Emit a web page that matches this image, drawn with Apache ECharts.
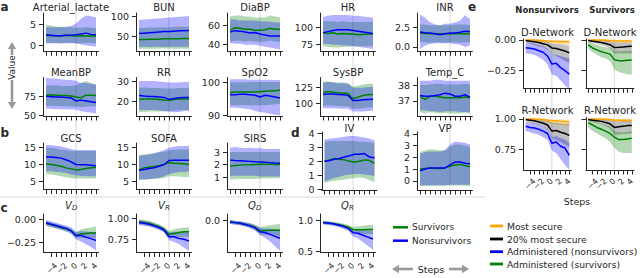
<!DOCTYPE html>
<html><head><meta charset="utf-8"><title>chart</title>
<script src="https://cdn.jsdelivr.net/npm/echarts@6.0.0/dist/echarts.min.js"></script>
<style>html,body{margin:0;padding:0;background:#fff;overflow:hidden}#chart{width:640px;height:278px}</style>
</head><body><div id="chart"></div>
<script>
// ---------- shared x values / tick labels ----------
const steps = [-6, -5, -4, -3, -2, -1, 0, 1, 2, 3, 4];
const xLabelSteps = [-6, -4, -2, 0, 2, 4];

// ---------- panel a ----------
const lactateS   = [2.4, 2.3, 2.3, 2.2, 2.4, 2.3, 2.2, 2.3, 2.2, 2.3, 2.2];
const lactateSLo = [0.6, 0.5, 0.6, 0.5, 0.6, 0.6, 0.5, 0.5, 0.6, 0.5, 0.5];
const lactateSHi = [4.9, 4.7, 4.5, 4.4, 4.3, 4.3, 4.2, 4.2, 4.3, 4.2, 4.1];
const lactateN   = [2.5, 2.4, 2.3, 2.3, 2.4, 2.4, 2.5, 2.7, 2.9, 2.6, 2.5];
const lactateNLo = [0.5, 0.5, 0.5, 0.4, 0.5, 0.5, 0.4, 0.2, 0.0, -0.2, -0.3];
const lactateNHi = [4.3, 4.3, 4.3, 4.3, 4.4, 4.6, 5.2, 6.3, 7.1, 6.9, 6.6];

const bunS   = [41, 41, 42, 42, 42, 43, 43, 43, 43, 44, 44];
const bunSLo = [18, 18, 18, 18, 18.5, 18.5, 18.5, 18, 18, 18, 18];
const bunSHi = [70, 70, 71, 71, 72, 72, 72, 73, 73, 73, 74];
const bunN   = [56, 57, 58, 59, 60, 61, 61, 62, 63, 63, 64];
const bunNLo = [23, 23, 22.5, 23, 23, 22.5, 23, 23, 22.5, 23, 23];
const bunNHi = [90, 91, 92, 93, 94, 95, 96, 97, 98, 99, 100];

const diaS   = [55, 57.5, 57, 56, 56, 55, 55, 55.5, 57, 56, 56];
const diaSLo = [43, 44, 44, 43, 44, 43, 43, 43, 44, 43, 43];
const diaSHi = [69, 70, 70, 69, 69, 68, 68, 68, 70, 69, 68];
const diaN   = [53, 54.5, 54, 53, 52, 52.5, 51, 50, 49, 49, 49];
const diaNLo = [42, 41, 41, 40, 40, 40, 39, 38, 37, 36, 35];
const diaNHi = [66, 66, 65, 65, 65, 65, 64, 64, 64, 63, 63];

const hrS   = [92, 91, 92, 90, 91, 90, 90, 89, 89.5, 90, 90];
const hrSLo = [73, 72, 71, 71, 72, 72, 73, 73, 73, 73, 74];
const hrSHi = [108, 108, 108, 107, 108, 107, 107, 107, 107, 107, 107];
const hrN   = [92, 93.5, 95, 96, 96, 96, 95, 94, 93, 92, 91];
const hrNLo = [76, 76, 75, 75, 74, 74, 73, 72, 71, 70, 69];
const hrNHi = [114, 116, 117, 117, 117, 117, 116, 116, 115, 114, 113];

const inrS   = [1.8, 1.75, 1.7, 1.7, 1.7, 1.7, 1.7, 1.7, 1.7, 1.7, 1.7];
const inrSLo = [0.6, 0.6, 0.55, 0.6, 0.6, 0.55, 0.6, 0.6, 0.55, 0.6, 0.6];
const inrSHi = [2.9, 2.9, 2.8, 2.8, 2.8, 2.8, 2.8, 2.9, 2.9, 2.9, 2.8];
const inrN   = [1.95, 1.85, 1.8, 1.7, 1.6, 1.7, 1.8, 1.8, 1.9, 2.05, 2.0];
const inrNLo = [-0.3, 0.2, 0.4, 0.5, 0.5, 0.5, 0.5, 0.4, 0.3, 0.0, 0.2];
const inrNHi = [4.2, 3.8, 3.2, 2.9, 2.8, 3.0, 3.0, 3.2, 3.4, 4.1, 3.6];

const mbpS   = [77, 77.5, 77, 76.5, 76.5, 76, 74.5, 73.5, 77, 77, 76.5];
const mbpSLo = [63, 63, 63, 62.5, 62.5, 62, 62, 61, 62, 62, 62];
const mbpSHi = [89, 90, 90, 89, 89, 89, 90, 93, 96, 93, 91];
const mbpN   = [75.5, 75, 74.5, 74.5, 74, 73.5, 69.5, 70.5, 69.5, 68.5, 67.5];
const mbpNLo = [59, 59, 58.5, 58.5, 58.5, 58, 58, 56, 55, 54, 53];
const mbpNHi = [100, 99, 99, 98, 97, 97, 96, 93, 93, 92, 91];

const rrS   = [20.8, 21, 21, 21, 20.8, 20.5, 20.4, 20.7, 21, 21, 21];
const rrSLo = [14.5, 14.5, 14.7, 14.7, 14.7, 14.7, 15, 15.3, 15.5, 15.5, 15.5];
const rrSHi = [26.8, 26.8, 26.5, 26.5, 26.5, 26.3, 26.3, 26.3, 26.5, 26.5, 26.5];
const rrN   = [22.8, 22.5, 22.3, 22.2, 22.0, 21.8, 20.8, 21.3, 21.6, 21.8, 21.7];
const rrNLo = [15.5, 15.5, 15.5, 15.5, 15.3, 15.0, 14.6, 14.5, 14.5, 15, 15];
const rrNHi = [30, 30, 30, 30, 29.8, 29.5, 29.3, 29.3, 29.3, 29.5, 29.5];

const spoS   = [96.8, 97, 97, 97, 97, 97, 97.1, 97.2, 97.3, 97.4, 97.5];
const spoSLo = [93, 93, 93, 93, 93, 93, 93, 93, 93.2, 93.3, 93.5];
const spoSHi = [99.9, 99.9, 99.9, 99.9, 99.9, 100, 100, 100, 100, 100, 100];
const spoN   = [96.2, 96.2, 96.3, 96.3, 96.2, 96.0, 95.5, 96.0, 95.8, 95.5, 95.2];
const spoNLo = [92.3, 92.3, 92.2, 92.0, 91.8, 91.3, 91, 90.8, 90.5, 90.2, 90];
const spoNHi = [100.8, 100.8, 100.8, 100.8, 100.7, 100.7, 100.7, 100.7, 100.7, 100.6, 100.6];

const sysS   = [117, 119, 118, 117, 116.5, 116, 108, 110, 113, 114, 114.5];
const sysSLo = [96, 97, 97, 96, 96, 96, 92, 92, 93, 94, 94];
const sysSHi = [134, 135, 134, 133, 133, 132, 127, 128, 130, 131, 131];
const sysN   = [114.5, 115, 115, 114.5, 114, 113, 105, 105, 106, 106.5, 107];
const sysNLo = [93, 93, 93, 92.5, 92, 92, 88, 88, 88, 88.5, 89];
const sysNHi = [133, 134, 133, 132, 132, 131, 125, 125, 125, 126, 126];

const tempS   = [37.3, 37.1, 37.3, 37.3, 37.25, 37.2, 37.2, 37.2, 37.2, 37.25, 37.2];
const tempSLo = [36.3, 36.2, 36.3, 36.25, 36.2, 36.25, 36.2, 36.2, 36.2, 36.25, 36.15];
const tempSHi = [38.05, 38.0, 38.05, 38.1, 38.1, 38.05, 38.05, 38.05, 38.05, 38.1, 38.05];
const tempN   = [37.35, 37.3, 37.3, 37.35, 37.4, 37.5, 37.45, 37.3, 37.3, 37.4, 37.25];
const tempNLo = [36.4, 36.4, 36.35, 36.35, 36.3, 36.35, 36.35, 36.35, 36.3, 36.3, 36.3];
const tempNHi = [38.3, 38.3, 38.3, 38.35, 38.35, 38.3, 38.3, 38.3, 38.3, 38.3, 38.3];

// ---------- panel b ----------
const gcsS   = [10.2, 10.0, 9.8, 9.5, 9.0, 8.7, 8.4, 8.5, 8.8, 9.0, 9.2];
const gcsSLo = [7.2, 7.0, 6.8, 6.5, 6.2, 6.0, 5.8, 5.8, 5.8, 5.8, 5.8];
const gcsSHi = [15.0, 15.0, 14.8, 14.5, 14.3, 14.0, 14.0, 14.0, 14.0, 14.0, 14.0];
const gcsN   = [12.2, 12.2, 12.1, 11.9, 11.4, 10.8, 10.0, 9.9, 9.9, 9.8, 9.6];
const gcsNLo = [8.0, 8.0, 7.8, 7.7, 7.5, 7.0, 6.8, 6.6, 6.5, 6.5, 6.5];
const gcsNHi = [15.8, 15.8, 15.6, 15.4, 15.0, 14.6, 14.3, 14.3, 14.3, 14.3, 14.3];

const sofaS   = [8.4, 9.0, 9.2, 9.4, 9.6, 10.0, 10.6, 10.4, 10.3, 10.2, 10.0];
const sofaSLo = [5.3, 5.5, 5.6, 5.7, 5.8, 6.0, 6.5, 6.5, 6.4, 6.3, 6.2];
const sofaSHi = [12.8, 13.0, 13.2, 13.4, 13.6, 13.8, 14.2, 14.4, 14.5, 14.5, 14.5];
const sofaN   = [8.3, 8.5, 8.8, 9.0, 9.5, 10.0, 11.2, 11.3, 11.3, 11.3, 11.3];
const sofaNLo = [5.5, 5.5, 5.6, 5.8, 6.0, 6.5, 7.2, 7.5, 7.8, 7.8, 8.0];
const sofaNHi = [12.5, 12.8, 13, 13.3, 13.8, 14.3, 15, 15.3, 15.5, 15.5, 15.5];

const sirsS   = [1.87, 1.92, 1.95, 1.97, 1.98, 2.0, 2.02, 2.02, 2.03, 2.0, 2.0];
const sirsSLo = [0.8, 0.82, 0.85, 0.85, 0.85, 0.85, 0.88, 0.88, 0.9, 0.9, 0.9];
const sirsSHi = [3.0, 3.0, 3.0, 3.0, 3.0, 3.0, 3.0, 3.0, 3.0, 3.0, 3.0];
const sirsN   = [2.35, 2.32, 2.3, 2.28, 2.25, 2.22, 2.2, 2.18, 2.15, 2.12, 2.1];
const sirsNLo = [1.1, 1.1, 1.1, 1.1, 1.1, 1.1, 1.05, 1.05, 1.05, 1.05, 1.05];
const sirsNHi = [3.35, 3.4, 3.35, 3.3, 3.35, 3.3, 3.3, 3.25, 3.25, 3.25, 3.25];

// ---------- panel d ----------
const ivS   = [2.0, 2.1, 2.2, 2.15, 2.1, 2.0, 1.95, 2.0, 2.1, 2.05, 1.85];
const ivSLo = [0.45, 0.55, 0.6, 0.65, 0.7, 0.75, 0.8, 0.85, 0.8, 0.65, 0.5];
const ivSHi = [3.4, 3.45, 3.45, 3.45, 3.45, 3.45, 3.45, 3.4, 3.4, 3.35, 3.3];
const ivN   = [2.0, 2.05, 2.15, 2.2, 2.3, 2.4, 2.5, 2.5, 2.55, 2.3, 2.25];
const ivNLo = [0.55, 0.7, 0.8, 0.9, 1.0, 1.05, 1.1, 1.1, 1.05, 1.0, 0.95];
const ivNHi = [3.55, 3.6, 3.65, 3.7, 3.75, 3.8, 3.8, 3.75, 3.7, 3.6, 3.5];

const vpS   = [1.0, 1.05, 1.1, 1.05, 1.05, 1.1, 1.25, 1.35, 1.4, 1.3, 1.2];
const vpSLo = [-0.45, -0.45, -0.42, -0.42, -0.42, -0.42, -0.4, -0.4, -0.4, -0.42, -0.45];
const vpSHi = [2.45, 2.6, 2.7, 2.65, 2.6, 2.6, 2.9, 3.1, 3.1, 3.0, 2.9];
const vpN   = [0.85, 1.0, 1.1, 1.1, 1.1, 1.1, 1.35, 1.6, 1.6, 1.5, 1.45];
const vpNLo = [-0.4, -0.38, -0.38, -0.38, -0.38, -0.38, -0.35, -0.35, -0.35, -0.35, -0.35];
const vpNHi = [2.3, 2.45, 2.5, 2.5, 2.5, 2.6, 3.1, 3.35, 3.3, 3.25, 3.1];

// ---------- panel c ----------
const vdS   = [-0.045, -0.06, -0.075, -0.09, -0.105, -0.125, -0.175, -0.16, -0.155, -0.15, -0.15];
const vdSLo = [-0.07, -0.085, -0.1, -0.115, -0.13, -0.15, -0.2, -0.2, -0.2, -0.2, -0.2];
const vdSHi = [-0.02, -0.035, -0.05, -0.065, -0.08, -0.1, -0.14, -0.11, -0.1, -0.09, -0.08];
const vdN   = [-0.04, -0.055, -0.07, -0.085, -0.1, -0.125, -0.18, -0.175, -0.195, -0.21, -0.23];
const vdNLo = [-0.07, -0.085, -0.1, -0.115, -0.13, -0.16, -0.22, -0.24, -0.27, -0.3, -0.34];
const vdNHi = [-0.01, -0.025, -0.04, -0.055, -0.07, -0.09, -0.14, -0.13, -0.135, -0.14, -0.14];

const vrS   = [0.96, 0.95, 0.94, 0.92, 0.9, 0.87, 0.81, 0.82, 0.83, 0.84, 0.84];
const vrSLo = [0.93, 0.92, 0.91, 0.89, 0.87, 0.84, 0.77, 0.77, 0.78, 0.78, 0.78];
const vrSHi = [0.99, 0.98, 0.97, 0.95, 0.93, 0.9, 0.85, 0.87, 0.88, 0.89, 0.89];
const vrN   = [0.95, 0.94, 0.93, 0.91, 0.89, 0.86, 0.78, 0.78, 0.76, 0.75, 0.73];
const vrNLo = [0.92, 0.91, 0.9, 0.88, 0.86, 0.83, 0.74, 0.72, 0.69, 0.65, 0.61];
const vrNHi = [0.98, 0.97, 0.96, 0.94, 0.92, 0.89, 0.83, 0.84, 0.84, 0.84, 0.84];

const qdS   = [-0.03, -0.04, -0.05, -0.065, -0.085, -0.11, -0.165, -0.16, -0.155, -0.155, -0.155];
const qdSLo = [-0.06, -0.07, -0.08, -0.095, -0.115, -0.15, -0.22, -0.23, -0.23, -0.24, -0.25];
const qdSHi = [0.0, -0.01, -0.02, -0.035, -0.05, -0.07, -0.11, -0.09, -0.08, -0.07, -0.06];
const qdN   = [-0.03, -0.04, -0.05, -0.07, -0.09, -0.12, -0.18, -0.19, -0.22, -0.25, -0.28];
const qdNLo = [-0.06, -0.07, -0.08, -0.1, -0.13, -0.16, -0.23, -0.27, -0.33, -0.4, -0.47];
const qdNHi = [0.0, -0.01, -0.02, -0.035, -0.05, -0.08, -0.12, -0.13, -0.13, -0.14, -0.15];

const qrS   = [0.96, 0.955, 0.945, 0.93, 0.915, 0.89, 0.85, 0.845, 0.845, 0.85, 0.85];
const qrSLo = [0.935, 0.93, 0.92, 0.9, 0.885, 0.86, 0.8, 0.79, 0.78, 0.78, 0.78];
const qrSHi = [0.985, 0.98, 0.97, 0.96, 0.945, 0.92, 0.89, 0.9, 0.91, 0.92, 0.92];
const qrN   = [0.96, 0.95, 0.94, 0.92, 0.9, 0.87, 0.8, 0.79, 0.76, 0.73, 0.7];
const qrNLo = [0.93, 0.92, 0.91, 0.89, 0.86, 0.83, 0.74, 0.71, 0.65, 0.59, 0.53];
const qrNHi = [0.98, 0.975, 0.965, 0.95, 0.93, 0.9, 0.85, 0.85, 0.84, 0.84, 0.83];

// ---------- panel e ----------
const dNonOr   = [0, 0, 0, -0.003, -0.005, -0.008, -0.012, -0.012, -0.015, -0.015, -0.015];
const dNonOrLo = [-0.008, -0.01, -0.012, -0.015, -0.018, -0.022, -0.03, -0.032, -0.035, -0.038, -0.04];
const dNonOrHi = [0.004, 0.004, 0.004, 0.003, 0.002, 0.001, 0, 0, 0, 0, 0];
const dNonBk   = [-0.005, -0.01, -0.015, -0.02, -0.03, -0.04, -0.065, -0.07, -0.08, -0.09, -0.105];
const dNonBkLo = [-0.02, -0.03, -0.04, -0.05, -0.06, -0.08, -0.12, -0.13, -0.15, -0.17, -0.19];
const dNonBkHi = [0, 0, 0, -0.005, -0.01, -0.015, -0.03, -0.03, -0.035, -0.04, -0.045];
const dNonAd   = [-0.063, -0.068, -0.073, -0.087, -0.1, -0.13, -0.196, -0.19, -0.225, -0.25, -0.277];
const dNonAdLo = [-0.11, -0.115, -0.12, -0.14, -0.16, -0.2, -0.28, -0.29, -0.33, -0.37, -0.4];
const dNonAdHi = [-0.02, -0.025, -0.03, -0.04, -0.05, -0.07, -0.12, -0.12, -0.13, -0.14, -0.15];

const dSurOr   = [0, 0, 0, 0, -0.002, -0.004, -0.008, -0.008, -0.008, -0.008, -0.008];
const dSurOrLo = [-0.006, -0.008, -0.01, -0.012, -0.014, -0.016, -0.022, -0.023, -0.024, -0.025, -0.025];
const dSurOrHi = [0.004, 0.004, 0.004, 0.004, 0.003, 0.002, 0.001, 0.001, 0.001, 0.001, 0.001];
const dSurBk   = [-0.005, -0.01, -0.015, -0.02, -0.028, -0.038, -0.062, -0.06, -0.057, -0.053, -0.05];
const dSurBkLo = [-0.015, -0.02, -0.03, -0.04, -0.05, -0.07, -0.11, -0.11, -0.11, -0.11, -0.11];
const dSurBkHi = [0, 0, 0, 0, -0.005, -0.01, -0.02, -0.02, -0.02, -0.02, -0.02];
const dSurAd   = [-0.04, -0.065, -0.08, -0.095, -0.105, -0.115, -0.16, -0.168, -0.168, -0.165, -0.163];
const dSurAdLo = [-0.07, -0.1, -0.12, -0.14, -0.15, -0.17, -0.24, -0.26, -0.27, -0.28, -0.28];
const dSurAdHi = [-0.01, -0.025, -0.04, -0.05, -0.06, -0.065, -0.09, -0.09, -0.09, -0.09, -0.085];

const rNonOr   = [1, 1, 1, 0.998, 0.995, 0.99, 0.985, 0.985, 0.98, 0.978, 0.975];
const rNonOrLo = [0.99, 0.99, 0.985, 0.98, 0.975, 0.97, 0.96, 0.955, 0.95, 0.945, 0.94];
const rNonOrHi = [1.004, 1.004, 1.003, 1.002, 1.001, 1.0, 0.998, 0.998, 0.997, 0.996, 0.995];
const rNonBk   = [0.995, 0.99, 0.985, 0.975, 0.965, 0.95, 0.9, 0.905, 0.89, 0.88, 0.865];
const rNonBkLo = [0.98, 0.97, 0.96, 0.95, 0.935, 0.91, 0.84, 0.83, 0.81, 0.79, 0.77];
const rNonBkHi = [1.0, 1.0, 1.0, 0.995, 0.99, 0.985, 0.97, 0.97, 0.965, 0.96, 0.96];
const rNonAd   = [0.94, 0.93, 0.925, 0.915, 0.9, 0.88, 0.8, 0.81, 0.775, 0.76, 0.7];
const rNonAdLo = [0.9, 0.89, 0.88, 0.87, 0.85, 0.83, 0.74, 0.72, 0.67, 0.62, 0.58];
const rNonAdHi = [0.975, 0.97, 0.965, 0.955, 0.94, 0.92, 0.85, 0.86, 0.84, 0.83, 0.8];

const rSurOr   = [1, 1, 1, 1, 0.998, 0.995, 0.99, 0.99, 0.99, 0.99, 0.99];
const rSurOrLo = [0.995, 0.993, 0.99, 0.988, 0.985, 0.98, 0.975, 0.973, 0.972, 0.97, 0.97];
const rSurOrHi = [1.004, 1.004, 1.004, 1.004, 1.003, 1.002, 1.0, 1.0, 1.0, 1.0, 1.0];
const rSurBk   = [0.995, 0.99, 0.985, 0.98, 0.97, 0.96, 0.93, 0.935, 0.94, 0.945, 0.945];
const rSurBkLo = [0.985, 0.975, 0.965, 0.955, 0.94, 0.92, 0.87, 0.87, 0.875, 0.875, 0.88];
const rSurBkHi = [1.0, 1.0, 1.0, 1.0, 0.995, 0.99, 0.98, 0.98, 0.985, 0.985, 0.985];
const rSurAd   = [0.97, 0.95, 0.93, 0.915, 0.9, 0.88, 0.85, 0.83, 0.83, 0.835, 0.84];
const rSurAdLo = [0.93, 0.9, 0.88, 0.86, 0.84, 0.81, 0.76, 0.73, 0.72, 0.72, 0.72];
const rSurAdHi = [1.0, 0.985, 0.97, 0.96, 0.95, 0.935, 0.9, 0.89, 0.89, 0.895, 0.9];

// ---------- styling / layout ----------
const FONT = '"DejaVu Sans", sans-serif';
const AX = '#262626', TX = '#262626', ARROW = '#9a9a9a', ZLINE = '#e2e2e2';
const GREEN = '#008000', BLUE = '#0000ff', ORANGE = '#ffa500', BLACK = '#000000';
const FILL = {green: 'rgba(0,128,0,0.3)', blue: 'rgba(0,0,255,0.3)', orange: 'rgba(255,165,0,0.3)', black: 'rgba(0,0,0,0.25)'};

const COLS = [43.5, 136.5, 227.5, 320.5, 417.5];
const PW = 55;
const ROWS = {
  a1: {top: 13, bottom: 51.3, titleY: 7},
  a2: {top: 77.5, bottom: 116, titleY: 72},
  b:  {top: 143, bottom: 189.5, titleY: 138},
  d:  {top: 132, bottom: 190, titleY: 128.5},
  c:  {top: 214, bottom: 252.5, titleY: 205}
};

const panels = [
  {t: 'Arterial_lactate', row: 'a1', col: 0, min: -1.43, max: 7.69, ticks: [0, 5], dec: 0, S: [lactateS, lactateSLo, lactateSHi], N: [lactateN, lactateNLo, lactateNHi]},
  {t: 'BUN', row: 'a1', col: 1, min: 11.75, max: 107.5, ticks: [50, 100], dec: 0, S: [bunS, bunSLo, bunSHi], N: [bunN, bunNLo, bunNHi]},
  {t: 'DiaBP', row: 'a1', col: 2, min: 33.2, max: 72.7, ticks: [40, 60], dec: 0, S: [diaS, diaSLo, diaSHi], N: [diaN, diaNLo, diaNHi]},
  {t: 'HR', row: 'a1', col: 3, min: 65.7, max: 119.8, ticks: [75, 100], dec: 0, S: [hrS, hrSLo, hrSHi], N: [hrN, hrNLo, hrNHi]},
  {t: 'INR', row: 'a1', col: 4, min: -0.557, max: 4.40, ticks: [0, 2.5], dec: 1, S: [inrS, inrSLo, inrSHi], N: [inrN, inrNLo, inrNHi]},
  {t: 'MeanBP', row: 'a2', col: 0, min: 49.6, max: 100.3, ticks: [50, 75], dec: 0, S: [mbpS, mbpSLo, mbpSHi], N: [mbpN, mbpNLo, mbpNHi]},
  {t: 'RR', row: 'a2', col: 1, min: 12.5, max: 31.75, ticks: [20, 30], dec: 0, S: [rrS, rrSLo, rrSHi], N: [rrN, rrNLo, rrNHi]},
  {t: 'SpO2', row: 'a2', col: 2, min: 89.8, max: 101.35, ticks: [90, 100], dec: 0, S: [spoS, spoSLo, spoSHi], N: [spoN, spoNLo, spoNHi]},
  {t: 'SysBP', row: 'a2', col: 3, min: 80.8, max: 140.9, ticks: [100, 125], dec: 0, S: [sysS, sysSLo, sysSHi], N: [sysN, sysNLo, sysNHi]},
  {t: 'Temp_C', row: 'a2', col: 4, min: 36.04, max: 38.5, ticks: [37, 38], dec: 0, S: [tempS, tempSLo, tempSHi], N: [tempN, tempNLo, tempNHi]},
  {t: 'GCS', row: 'b', col: 0, min: 2.56, max: 16.4, ticks: [5, 10, 15], dec: 0, S: [gcsS, gcsSLo, gcsSHi], N: [gcsN, gcsNLo, gcsNHi]},
  {t: 'SOFA', row: 'b', col: 1, min: 2.56, max: 16.4, ticks: [5, 10, 15], dec: 0, S: [sofaS, sofaSLo, sofaSHi], N: [sofaN, sofaNLo, sofaNHi]},
  {t: 'SIRS', row: 'b', col: 2, min: 0, max: 3.72, ticks: [1, 2, 3], dec: 0, S: [sirsS, sirsSLo, sirsSHi], N: [sirsN, sirsNLo, sirsNHi]},
  {t: 'IV', row: 'd', col: 3, left: 322, min: -0.05, max: 4.09, ticks: [0, 1, 2, 3, 4], dec: 0, S: [ivS, ivSLo, ivSHi], N: [ivN, ivNLo, ivNHi]},
  {t: 'VP', row: 'd', col: 4, min: -0.79, max: 4.17, ticks: [0, 1, 2, 3, 4], dec: 0, S: [vpS, vpSLo, vpSHi], N: [vpN, vpNLo, vpNHi]},
  {t: ['V', 'D'], row: 'c', col: 0, min: -0.359, max: 0.054, ticks: [-0.25, 0], dec: 2, xl: true, S: [vdS, vdSLo, vdSHi], N: [vdN, vdNLo, vdNHi]},
  {t: ['V', 'R'], row: 'c', col: 1, min: 0.593, max: 1.051, ticks: [0.75, 1], dec: 2, xl: true, S: [vrS, vrSLo, vrSHi], N: [vrN, vrNLo, vrNHi]},
  {t: ['Q', 'D'], row: 'c', col: 2, min: -0.497, max: 0.092, ticks: [-0.5, 0], dec: 1, xl: true, S: [qdS, qdSLo, qdSHi], N: [qdN, qdNLo, qdNHi]},
  {t: ['Q', 'R'], row: 'c', col: 3, min: 0.487, max: 1.095, ticks: [0.5, 1], dec: 1, xl: true, S: [qrS, qrSLo, qrSHi], N: [qrN, qrNLo, qrNHi]}
];

const E_COLS = [523.5, 586];
const EW = 48;
const E_ROWS = {
  D: {top: 39, bottom: 88.3, titleY: 32.3, min: -0.393, max: 0.008, ticks: [-0.25, 0], title: 'D-Network'},
  R: {top: 117.5, bottom: 170, titleY: 110.7, min: 0.579, max: 1.012, ticks: [0.75, 1], title: 'R-Network'}
};
const ePanels = [
  {row: 'D', col: 0, yl: true, O: [dNonOr, dNonOrLo, dNonOrHi], K: [dNonBk, dNonBkLo, dNonBkHi], A: [dNonAd, dNonAdLo, dNonAdHi], ac: 'blue'},
  {row: 'D', col: 1, yl: false, O: [dSurOr, dSurOrLo, dSurOrHi], K: [dSurBk, dSurBkLo, dSurBkHi], A: [dSurAd, dSurAdLo, dSurAdHi], ac: 'green'},
  {row: 'R', col: 0, yl: true, xl: true, O: [rNonOr, rNonOrLo, rNonOrHi], K: [rNonBk, rNonBkLo, rNonBkHi], A: [rNonAd, rNonAdLo, rNonAdHi], ac: 'blue'},
  {row: 'R', col: 1, yl: false, xl: true, O: [rSurOr, rSurOrLo, rSurOrHi], K: [rSurBk, rSurBkLo, rSurBkHi], A: [rSurAd, rSurAdLo, rSurAdHi], ac: 'green'}
];

function fmtNum(v, dec) { return (v < 0 ? '\u2212' : '') + Math.abs(v).toFixed(dec); }

const grids = [], xAxes = [], yAxes = [], series = [];

function addAxes(left, top, bottom, width, min, max, ticks, dec, showY, showX, xMargin) {
  const gi = grids.length;
  grids.push({left: left, top: top, width: width, height: bottom - top, containLabel: false, outerBoundsMode: 'none', show: false});
  xAxes.push({
    gridIndex: gi, type: 'value', min: -6.5, max: 4.5,
    axisLine: {show: true, onZero: false, lineStyle: {color: AX, width: 1}},
    axisTick: {show: true, customValues: steps, length: 4.5, inside: false, lineStyle: {color: AX, width: 1}},
    axisLabel: {show: !!showX, customValues: xLabelSteps, rotate: 45, fontSize: 8, fontFamily: FONT, color: TX, margin: xMargin || 11,
      formatter: v => fmtNum(v, 0)},
    splitLine: {show: false}
  });
  yAxes.push({
    gridIndex: gi, type: 'value', min: min, max: max,
    axisLine: {show: true, onZero: false, lineStyle: {color: AX, width: 1}},
    axisTick: {show: true, customValues: ticks, length: 4.5, lineStyle: {color: AX, width: 1}},
    axisLabel: {show: showY !== false, customValues: ticks, fontSize: 9.5, fontFamily: FONT, color: TX, margin: 7.5,
      formatter: v => fmtNum(v, dec)},
    splitLine: {show: false}
  });
  return gi;
}

function bandSeries(gi, lo, hi, fill) {
  return {
    type: 'custom', xAxisIndex: gi, yAxisIndex: gi, z: 1, silent: true, clip: true,
    data: steps.map((x, k) => [x, lo[k], hi[k]]),
    renderItem: function (params, api) {
      if (params.dataIndexInside !== 0) return null;
      const n = params.dataInsideLength;
      const top = [], bot = [];
      for (let k = 0; k < n; k++) {
        top.push(api.coord([api.value(0, k), api.value(2, k)]));
        bot.push(api.coord([api.value(0, k), api.value(1, k)]));
      }
      const cs = params.coordSys;
      return {
        type: 'polygon', shape: {points: top.concat(bot.reverse())}, style: {fill: fill, stroke: 'none'},
        clipPath: {type: 'rect', shape: {x: cs.x, y: cs.y, width: cs.width, height: cs.height}}
      };
    }
  };
}
function lineSeries(gi, vals, color) {
  return {
    type: 'line', xAxisIndex: gi, yAxisIndex: gi, z: 2, silent: true, clip: true,
    data: steps.map((x, k) => [x, vals[k]]), symbol: 'none', showSymbol: false,
    lineStyle: {color: color, width: 1.5}, itemStyle: {color: color}, emphasis: {disabled: true}
  };
}

const panelGrid = [];
panels.forEach(p => {
  const r = ROWS[p.row];
  const left = p.left != null ? p.left : COLS[p.col];
  const gi = addAxes(left, r.top, r.bottom, PW, p.min, p.max, p.ticks, p.dec, true, p.xl, 12);
  panelGrid.push(gi);
  series.push(bandSeries(gi, p.S[1], p.S[2], FILL.green));
  series.push(bandSeries(gi, p.N[1], p.N[2], FILL.blue));
  series.push(lineSeries(gi, p.S[0], GREEN));
  series.push(lineSeries(gi, p.N[0], BLUE));
});
const eGrid = [];
ePanels.forEach(p => {
  const r = E_ROWS[p.row];
  const gi = addAxes(E_COLS[p.col], r.top, r.bottom, EW, r.min, r.max, r.ticks, 2, p.yl, p.xl, 10);
  eGrid.push(gi);
  series.push(bandSeries(gi, p.O[1], p.O[2], FILL.orange));
  series.push(bandSeries(gi, p.K[1], p.K[2], FILL.black));
  series.push(bandSeries(gi, p.A[1], p.A[2], FILL[p.ac]));
  series.push(lineSeries(gi, p.O[0], ORANGE));
  series.push(lineSeries(gi, p.K[0], BLACK));
  series.push(lineSeries(gi, p.A[0], p.ac === 'blue' ? BLUE : GREEN));
});

const chart = echarts.init(document.getElementById('chart'), null, {renderer: 'svg', width: 640, height: 278});
chart.setOption({
  animation: false, backgroundColor: '#ffffff',
  textStyle: {fontFamily: FONT},
  grid: grids, xAxis: xAxes, yAxis: yAxes, series: series
});

// ---------- decorations (text, arrows, guide lines) ----------
function txt(text, x, y, o) {
  o = o || {};
  const font = (o.style || 'normal') + ' ' + (o.weight || 'normal') + ' ' + (o.size || 10) + 'px ' + FONT;
  const al = o.align || 'center', va = o.va || 'middle';
  return {type: 'text', x: x, y: y, rotation: o.rot || 0, z: 10, silent: true,
    style: {text: text, font: font, fill: o.color || TX, align: al, verticalAlign: va, textAlign: al, textVerticalAlign: va}};
}
function seg(x1, y1, x2, y2, color, w, z) {
  return {type: 'line', z: z == null ? 10 : z, silent: true, shape: {x1: x1, y1: y1, x2: x2, y2: y2}, style: {stroke: color, lineWidth: w}};
}
function arrow(x1, y1, x2, y2) {
  const dx = x2 - x1, dy = y2 - y1, L = Math.hypot(dx, dy), ux = dx / L, uy = dy / L;
  const hl = 7, hw = 4.2;
  const hx = x2 - ux * hl, hy = y2 - uy * hl, px = -uy, py = ux;
  return [seg(x1, y1, hx, hy, ARROW, 2.6),
    {type: 'polygon', z: 10, silent: true, shape: {points: [[x2, y2], [hx + px * hw, hy + py * hw], [hx - px * hw, hy - py * hw]]}, style: {fill: ARROW}}];
}

const g = [];
// step-0 guide lines
const colZero = {};
panels.forEach((p, i) => {
  const x0 = chart.convertToPixel({xAxisIndex: panelGrid[i]}, 0);
  const key = p.col;
  if (colZero[key] == null) colZero[key] = x0;
});
Object.keys(colZero).forEach(k => {
  const x0 = colZero[k];
  g.push(seg(x0, 0, x0, +k === 4 ? 195 : 257, ZLINE, 1.3, 0));
});
[0, 1].forEach(c => {
  const x0 = chart.convertToPixel({xAxisIndex: eGrid[c]}, 0);
  g.push(seg(x0, 38, x0, 177, ZLINE, 1.3, 0));
});
g.push(seg(0, 197, 485, 197, '#e6e6e6', 1.5, 0));

// titles
panels.forEach(p => {
  const r = ROWS[p.row];
  const left = p.left != null ? p.left : COLS[p.col];
  const cx = left + PW / 2;
  if (Array.isArray(p.t)) {
    g.push(txt(p.t[0], cx + 0.8, r.titleY, {style: 'italic', align: 'right'}));
    g.push(txt(p.t[1], cx + 1, r.titleY + 3, {style: 'italic', size: 7, align: 'left'}));
  } else {
    g.push(txt(p.t, cx, r.titleY));
  }
});
ePanels.forEach(p => {
  const r = E_ROWS[p.row];
  g.push(txt(r.title, E_COLS[p.col] + EW / 2, r.titleY));
});
g.push(txt('Nonsurvivors', 547, 10, {weight: 'bold', size: 8.5}));
g.push(txt('Survivors', 612, 10, {weight: 'bold', size: 8.5}));

// panel letters
g.push(txt('a', 0.5, 7, {weight: 'bold', size: 12, align: 'left'}));
g.push(txt('b', 0.5, 133, {weight: 'bold', size: 12, align: 'left'}));
g.push(txt('c', 0.5, 208, {weight: 'bold', size: 12, align: 'left'}));
g.push(txt('d', 291, 133, {weight: 'bold', size: 12, align: 'left'}));
g.push(txt('e', 468, 7, {weight: 'bold', size: 12, align: 'left'}));

// Value arrow
g.push(...arrow(12, 55, 12, 42));
g.push(txt('Value', 12, 67.5, {size: 9, rot: Math.PI / 2}));
g.push(...arrow(12, 80, 12, 109));

// Steps arrows (panel c)
g.push(...arrow(413, 269, 392, 269));
g.push(txt('Steps', 431, 269, {size: 9.5}));
g.push(...arrow(449, 269, 469, 269));
g.push(txt('Steps', 577, 201.7, {size: 9.5}));

// legend c
g.push(seg(393, 227.3, 408, 227.3, GREEN, 2.5));
g.push(txt('Survivors', 412, 227.3, {size: 9, align: 'left'}));
g.push(seg(393, 240.7, 408, 240.7, BLUE, 2.5));
g.push(txt('Nonsurvivors', 412, 240.7, {size: 9, align: 'left'}));

// legend e
const eLegend = [['Most secure', ORANGE, 226], ['20% most secure', BLACK, 239], ['Administered (nonsurvivors)', BLUE, 251.7], ['Administered (survivors)', GREEN, 264]];
eLegend.forEach(it => {
  g.push(seg(490, it[2], 503, it[2], it[1], 2.8));
  g.push(txt(it[0], 507, it[2], {size: 9.2, align: 'left'}));
});

chart.setOption({graphic: {elements: g}});
</script></body></html>
